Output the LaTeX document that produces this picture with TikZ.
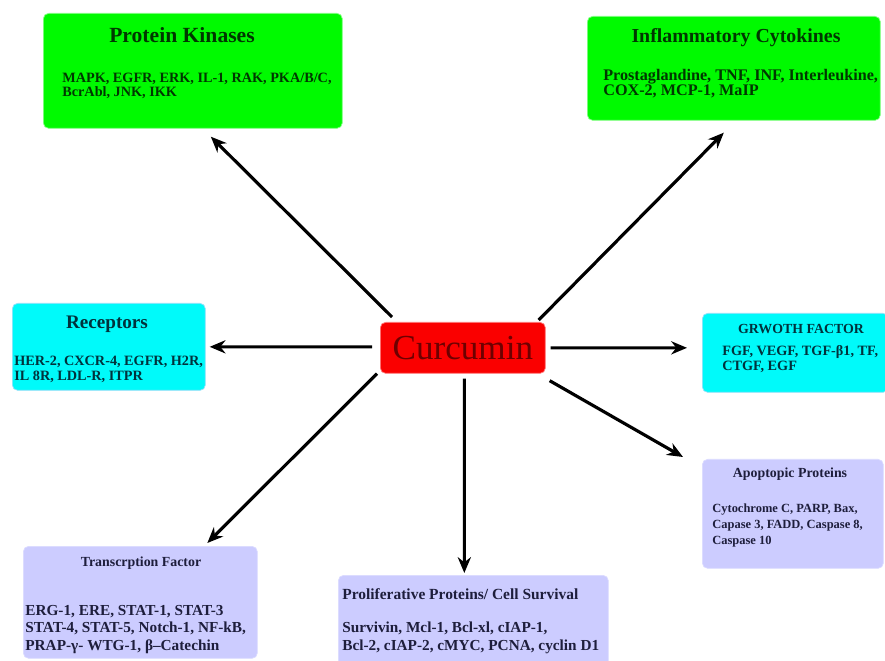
\documentclass[tikz,border=0pt]{standalone}
\usepackage{fontspec}
\setmainfont{Liberation Serif}
\usetikzlibrary{arrows.meta,calc,positioning}

\definecolor{boxgreen}{RGB}{0,250,0}
\definecolor{boxcyan}{RGB}{0,250,250}
\definecolor{boxlav}{RGB}{204,204,255}
\definecolor{boxred}{RGB}{250,0,0}
\definecolor{txtgreen}{RGB}{0,55,0}
\definecolor{txtcyan}{RGB}{0,50,60}
\definecolor{txtlav}{RGB}{30,30,60}
\definecolor{txtred}{RGB}{110,0,0}

\newcommand{\bfsz}[2]{\fontsize{#1}{#2}\selectfont\bfseries}

\tikzset{
  box/.style={rectangle, rounded corners=3pt, anchor=north west, inner sep=0pt},
  greenbox/.style={box, fill=boxgreen, draw=green!45!white, line width=0.4pt},
  cyanbox/.style={box, fill=boxcyan, draw=cyan!40!white, line width=0.4pt},
  lavbox/.style={box, fill=boxlav, draw=boxlav!70!white, line width=0.4pt},
  redbox/.style={box, fill=boxred, draw=red!50!white, line width=0.4pt},
  head/.style={anchor=base, inner sep=0pt},
  % body texts sit on the baseline of their last line
  body/.style={anchor=base west, align=left, inner sep=0pt},
  arr/.style={-{Stealth[length=9pt,width=7.5pt]}, line width=1.8pt, black},
}

\begin{document}
\begin{tikzpicture}[x=0.02cm,y=-0.02cm]
\useasboundingbox (0,0) rectangle (885,661);

%drawing the boxes
\node[greenbox, minimum width=5.98cm, minimum height=2.30cm] (kin) at (43,13) {};
\node[greenbox, minimum width=5.86cm, minimum height=2.08cm] (cyt) at (587,16) {};
\node[cyanbox, minimum width=3.86cm, minimum height=1.74cm] (rec) at (12,303) {};
\node[cyanbox, minimum width=3.72cm, minimum height=1.58cm] (gro) at (702,313) {};
\node[lavbox, minimum width=3.62cm, minimum height=2.18cm] (apo) at (702,459) {};
\node[lavbox, minimum width=4.68cm, minimum height=2.24cm] (tra) at (23,546) {};
\node[lavbox, minimum width=5.40cm, minimum height=1.90cm] (pro) at (338,575) {};

%the centre box
\node[redbox, minimum width=3.30cm, minimum height=1.02cm, font=\fontsize{20}{20}\selectfont, text=txtred] (cur) at (380,322) {Curcumin};

%labels of the boxes
\node[head, font=\bfsz{12.3}{12.3}, text=txtgreen] (kinhead) at (182,43) {Protein Kinases};
\node[body, font=\bfsz{8.1}{8}, text=txtgreen] (kinbody) at (62,97) {MAPK, EGFR, ERK, IL-1, RAK, PKA/B/C,\\BcrAbl, JNK, IKK};

\node[head, font=\bfsz{11.3}{11.3}, text=txtgreen] (cythead) at (736,43) {Inflammatory Cytokines};
\node[body, font=\bfsz{9.2}{9}, text=txtgreen] (cytbody) at (603,96) {Prostaglandine, TNF, INF, Interleukine,\\COX-2, MCP-1, MaIP};

\node[head, font=\bfsz{10.9}{10.9}, text=txtcyan] (rechead) at (107,329) {Receptors};
\node[body, font=\bfsz{8.1}{9.1}, text=txtcyan] (recbody) at (14,381) {HER-2, CXCR-4, EGFR, H2R,\\IL 8R, LDL-R, ITPR};

\node[head, font=\bfsz{7.9}{7.9}, text=txtcyan] (grohead) at (801,334) {GRWOTH FACTOR};
\node[body, font=\bfsz{8.1}{9.1}, text=txtcyan] (grobody) at (722,371) {FGF, VEGF, TGF-β1, TF,\\CTGF, EGF};

\node[head, font=\bfsz{7.9}{7.9}, text=txtlav] (apohead) at (790,478) {Apoptopic Proteins};
\node[body, font=\bfsz{7.1}{9.1}, text=txtlav] (apobody) at (712,544) {Cytochrome C, PARP, Bax,\\Capase 3, FADD, Caspase 8,\\Caspase 10};

\node[head, font=\bfsz{7.9}{7.9}, text=txtlav] (trahead) at (141,566) {Transcrption Factor};
\node[body, font=\bfsz{8.7}{9.9}, text=txtlav] (trabody) at (25,650) {ERG-1, ERE, STAT-1, STAT-3\\STAT-4, STAT-5, Notch-1, NF-kB,\\PRAP-γ- WTG-1, β–Catechin};

\node[body, font=\bfsz{8.8}{8.8}, text=txtlav] (prohead) at (342,599) {Proliferative Proteins/ Cell Survival};
\node[body, font=\bfsz{8.7}{10.2}, text=txtlav] (probody) at (342,650) {Survivin, Mcl-1, Bcl-xl, cIAP-1,\\Bcl-2, cIAP-2, cMYC, PCNA, cyclin D1};

%arrows from curcumin
\draw[arr] ($(cur.north west)+(12,-5)$) -- ($(kin.south)+(18,8)$);
\draw[arr] ($(cur.north east)+(-7,-2)$) -- ($(cyt.south)+(-10,12)$);
\draw[arr] ($(cur.west)+(-8,-1)$) -- ($(rec.east)+(4,0)$);
\draw[arr] ($(cur.east)+(5,0)$) -- ($(gro.west)+(-15,-5)$);
\draw[arr] ($(cur.south east)+(4,7)$) -- ($(apo.north west)+(-19,-2)$);
\draw[arr] ($(cur.south west)+(-3,0)$) -- ($(tra.north)+(67,-3)$);
\draw[arr] ($(cur.south)+(1.5,5)$) -- ($(pro.north)+(-9,-2)$);
\end{tikzpicture}
\end{document}
